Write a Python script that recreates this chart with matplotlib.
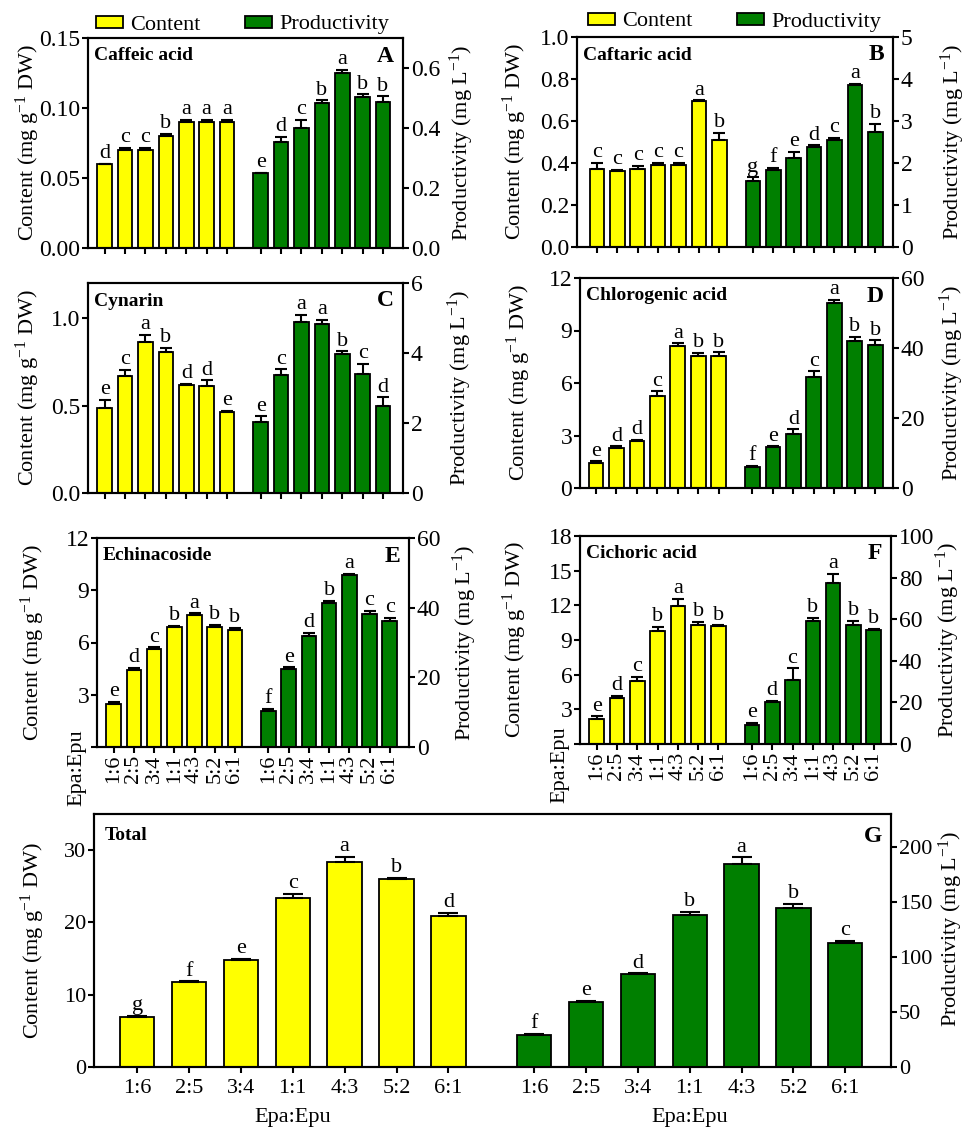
import matplotlib
matplotlib.use("Agg")
import matplotlib.pyplot as plt
from matplotlib.patches import Patch
import numpy as np

plt.rcParams["font.family"] = ["Liberation Serif", "DejaVu Serif"]
plt.rcParams["mathtext.fontset"] = "custom"
plt.rcParams["mathtext.rm"] = "Liberation Serif"
plt.rcParams["mathtext.it"] = "Liberation Serif:italic"
plt.rcParams["mathtext.bf"] = "Liberation Serif:bold"

# Epa:Epu ratios
ratios = ["1:6", "2:5", "3:4", "1:1", "4:3", "5:2", "6:1"]

# Caffeic acid
caffeic_content = [0.060, 0.070, 0.070, 0.080, 0.090, 0.090, 0.090]
caffeic_content_err = [0.0, 0.0017, 0.0017, 0.0017, 0.0017, 0.0017, 0.0017]
caffeic_content_sig = ["d", "c", "c", "b", "a", "a", "a"]
caffeic_prod = [0.250, 0.352, 0.399, 0.482, 0.584, 0.502, 0.486]
caffeic_prod_err = [0.0, 0.019, 0.029, 0.010, 0.010, 0.010, 0.020]
caffeic_prod_sig = ["e", "d", "c", "b", "a", "b", "b"]

# Caftaric acid
caftaric_content = [0.371, 0.363, 0.370, 0.390, 0.390, 0.693, 0.510]
caftaric_content_err = [0.030, 0.006, 0.017, 0.011, 0.011, 0.006, 0.032]
caftaric_content_sig = ["c", "c", "c", "c", "c", "a", "b"]
caftaric_prod = [1.56, 1.83, 2.12, 2.37, 2.55, 3.85, 2.75]
caftaric_prod_err = [0.10, 0.06, 0.15, 0.05, 0.05, 0.04, 0.18]
caftaric_prod_sig = ["g", "f", "e", "d", "c", "a", "b"]

# Cynarin
cynarin_content = [0.484, 0.670, 0.862, 0.808, 0.616, 0.614, 0.463]
cynarin_content_err = [0.050, 0.032, 0.040, 0.020, 0.006, 0.030, 0.008]
cynarin_content_sig = ["e", "c", "a", "b", "d", "d", "e"]
cynarin_prod = [2.02, 3.36, 4.88, 4.83, 3.98, 3.40, 2.50]
cynarin_prod_err = [0.17, 0.17, 0.22, 0.12, 0.07, 0.30, 0.23]
cynarin_prod_sig = ["e", "c", "a", "a", "b", "c", "d"]

# Chlorogenic acid
chlorogenic_content = [1.43, 2.27, 2.70, 5.26, 8.13, 7.54, 7.56]
chlorogenic_content_err = [0.10, 0.11, 0.06, 0.27, 0.13, 0.20, 0.20]
chlorogenic_content_sig = ["e", "d", "d", "c", "a", "b", "b"]
chlorogenic_prod = [6.0, 11.6, 15.4, 31.7, 52.8, 41.9, 40.8]
chlorogenic_prod_err = [0.3, 0.3, 1.4, 1.6, 1.0, 1.2, 1.4]
chlorogenic_prod_sig = ["f", "e", "d", "c", "a", "b", "b"]

# Echinacoside
echinacoside_content = [2.48, 4.42, 5.65, 6.88, 7.60, 6.88, 6.73]
echinacoside_content_err = [0.10, 0.12, 0.08, 0.08, 0.08, 0.13, 0.13]
echinacoside_content_sig = ["e", "d", "c", "b", "a", "b", "b"]
echinacoside_prod = [10.3, 22.3, 31.9, 41.25, 49.3, 38.3, 36.1]
echinacoside_prod_err = [0.6, 0.6, 0.8, 0.8, 0.4, 0.8, 1.0]
echinacoside_prod_sig = ["f", "e", "d", "b", "a", "c", "c"]

# Cichoric acid
cichoric_content = [2.19, 4.00, 5.47, 9.82, 11.90, 10.34, 10.23]
cichoric_content_err = [0.20, 0.14, 0.37, 0.30, 0.66, 0.26, 0.05]
cichoric_content_sig = ["e", "d", "c", "b", "a", "b", "b"]
cichoric_prod = [9.3, 20.0, 31.0, 59.0, 77.4, 57.3, 55.0]
cichoric_prod_err = [0.9, 0.8, 5.3, 1.6, 4.3, 1.8, 0.3]
cichoric_prod_sig = ["e", "d", "c", "b", "a", "b", "b"]

# Total
total_content = [6.95, 11.73, 14.77, 23.42, 28.39, 26.00, 20.94]
total_content_err = [0.14, 0.10, 0.18, 0.55, 0.64, 0.14, 0.41]
total_content_sig = ["g", "f", "e", "c", "a", "b", "d"]
total_prod = [29.0, 58.9, 84.3, 138.4, 184.6, 144.1, 112.4]
total_prod_err = [0.9, 1.5, 0.9, 2.7, 6.0, 4.2, 2.4]
total_prod_sig = ["f", "e", "d", "b", "a", "b", "c"]

YELLOW = "#ffff00"
GREEN = "#007f00"
W, H = 966, 1128
FS = 16

def rect(l, r, t, b):
    return [l / W, 1 - b / H, (r - l) / W, (b - t) / H]

# layout per panel: box in pixels (left, right, top, bottom), x limits, axis ranges
panels = [
    dict(title="Caffeic acid", letter="A",
         c=caffeic_content, ce=caffeic_content_err, cs=caffeic_content_sig,
         p=caffeic_prod, pe=caffeic_prod_err, ps=caffeic_prod_sig,
         box=(88, 403, 38, 248), xlim=(-0.82, 14.63),
         lylim=0.15, lticks=[0, 0.05, 0.10, 0.15], lfmt="%.2f",
         rylim=0.7, rticks=[0, 0.2, 0.4, 0.6], rfmt="%.1f",
         xt="none", w=0.72, ylab=(28, 462)),
    dict(title="Caftaric acid", letter="B",
         c=caftaric_content, ce=caftaric_content_err, cs=caftaric_content_sig,
         p=caftaric_prod, pe=caftaric_prod_err, ps=caftaric_prod_sig,
         box=(577, 893, 37, 247), xlim=(-0.98, 14.52),
         lylim=1.0, lticks=[0, 0.2, 0.4, 0.6, 0.8, 1.0], lfmt="%.1f",
         rylim=5, rticks=[0, 1, 2, 3, 4, 5], rfmt="%d",
         xt="none", w=0.72, ylab=(515, 953)),
    dict(title="Cynarin", letter="C",
         c=cynarin_content, ce=cynarin_content_err, cs=cynarin_content_sig,
         p=cynarin_prod, pe=cynarin_prod_err, ps=cynarin_prod_sig,
         box=(88, 403, 283, 493), xlim=(-0.82, 14.63),
         lylim=1.2, lticks=[0, 0.5, 1.0], lfmt="%.1f",
         rylim=6, rticks=[0, 2, 4, 6], rfmt="%d",
         xt="none", w=0.72, ylab=(28, 460)),
    dict(title="Chlorogenic acid", letter="D",
         c=chlorogenic_content, ce=chlorogenic_content_err, cs=chlorogenic_content_sig,
         p=chlorogenic_prod, pe=chlorogenic_prod_err, ps=chlorogenic_prod_sig,
         box=(580, 893, 278, 488), xlim=(-0.78, 14.52),
         lylim=12, lticks=[0, 3, 6, 9, 12], lfmt="%d",
         rylim=60, rticks=[0, 20, 40, 60], rfmt="%d",
         xt="none", w=0.72, ylab=(519, 952)),
    dict(title="Echinacoside", letter="E",
         c=echinacoside_content, ce=echinacoside_content_err, cs=echinacoside_content_sig,
         p=echinacoside_prod, pe=echinacoside_prod_err, ps=echinacoside_prod_sig,
         box=(97, 409, 538, 747), xlim=(-0.82, 14.60),
         lylim=12, lticks=[0, 3, 6, 9, 12], lfmt="%d",
         rylim=60, rticks=[0, 20, 40, 60], rfmt="%d",
         xt="rot", w=0.72, ylab=(33, 465)),
    dict(title="Cichoric acid", letter="F",
         c=cichoric_content, ce=cichoric_content_err, cs=cichoric_content_sig,
         p=cichoric_prod, pe=cichoric_prod_err, ps=cichoric_prod_sig,
         box=(580, 891, 536, 744), xlim=(-0.82, 14.50),
         lylim=18, lticks=[0, 3, 6, 9, 12, 15, 18], lfmt="%d",
         rylim=100, rticks=[0, 20, 40, 60, 80, 100], rfmt="%d",
         xt="rot", w=0.72, ylab=(515, 948)),
    dict(title="Total", letter="G",
         c=total_content, ce=total_content_err, cs=total_content_sig,
         p=total_prod, pe=total_prod_err, ps=total_prod_sig,
         box=(94, 891, 814, 1067), xlim=(-0.83, 14.53),
         lylim=35, lticks=[0, 10, 20, 30], lfmt="%d",
         rylim=230, rticks=[0, 50, 100, 150, 200], rfmt="%d",
         xt="flat", w=0.66, ylab=(33, 951)),
]

fig = plt.figure(figsize=(W / 100, H / 100), dpi=100)

x_c = np.arange(7)
x_p = np.arange(7) + 7.65

for pn in panels:
    l, r, t, b = pn["box"]
    big = pn["letter"] == "G"
    ax = fig.add_axes(rect(l, r, t, b))
    ax2 = ax.twinx()
    ekw = dict(ecolor="black", elinewidth=1.5, capsize=7 if big else 4, capthick=1.5)
    ax.bar(x_c, pn["c"], pn["w"], color=YELLOW, edgecolor="black", linewidth=1.3,
           yerr=[np.zeros(7), pn["ce"]], error_kw=ekw, zorder=2)
    ax2.bar(x_p, pn["p"], pn["w"], color=GREEN, edgecolor="black", linewidth=1.3,
            yerr=[np.zeros(7), pn["pe"]], error_kw=ekw, zorder=2)
    for xi, v, e, s in zip(x_c, pn["c"], pn["ce"], pn["cs"]):
        ax.annotate(s, (xi, v + e), xytext=(0, 0.5), textcoords="offset points",
                    ha="center", va="bottom", fontsize=FS)
    for xi, v, e, s in zip(x_p, pn["p"], pn["pe"], pn["ps"]):
        ax2.annotate(s, (xi, v + e), xytext=(0, 0.5), textcoords="offset points",
                     ha="center", va="bottom", fontsize=FS)

    ax.set_xlim(*pn["xlim"])
    ax.set_ylim(0, pn["lylim"])
    ax2.set_ylim(0, pn["rylim"])
    lt = [pn["lfmt"] % v for v in pn["lticks"]]
    if pn["xt"] == "rot":
        lt[0] = ""
    ax.set_yticks(pn["lticks"], lt)
    ax2.set_yticks(pn["rticks"], [pn["rfmt"] % v for v in pn["rticks"]])
    ax.set_xticks(np.concatenate([x_c, x_p]))
    if pn["xt"] == "none":
        ax.set_xticklabels([])
    elif pn["xt"] == "rot":
        ax.set_xticklabels(ratios * 2, rotation=90)
        ax.text(-0.064, -0.10, "Epa:Epu", transform=ax.transAxes, rotation=90,
                ha="center", va="center", fontsize=FS)
    else:
        ax.set_xticklabels(ratios * 2)
        for gx in (3, 3 + 7.65):
            ax.text(gx, -0.198, "Epa:Epu", transform=ax.get_xaxis_transform(),
                    ha="center", va="center", fontsize=FS)

    tfs = 16 if big else 17
    for a in (ax, ax2):
        for sp in a.spines.values():
            sp.set_linewidth(1.5)
        a.tick_params(direction="out", length=4.5, width=1.5, labelsize=tfs, pad=1)
    ax.tick_params(axis="x", labelsize=16, pad=4 if big else 1)

    ax.annotate(pn["title"], (0, 1), xycoords="axes fraction",
                xytext=(11 * 0.72 if big else 6 * 0.72, -21 * 0.72 if big else -18 * 0.72),
                textcoords="offset points", ha="left", va="center",
                fontsize=14, fontweight="bold")
    ax.annotate(pn["letter"], (1, 1), xycoords="axes fraction",
                xytext=(-9 * 0.72, -23 * 0.72 if big else -18 * 0.72),
                textcoords="offset points", ha="right", va="center",
                fontsize=17, fontweight="bold")

    yc = (t + b) / 2
    fig.text(pn["ylab"][0] / W, 1 - yc / H, "Content (mg g$^{-1}$ DW)",
             rotation=90, ha="center", va="center", fontsize=FS)
    yr = yc - 12 if big else yc
    fig.text(pn["ylab"][1] / W, 1 - yr / H, "Productivity (mg L$^{-1}$)",
             rotation=90, ha="center", va="center", fontsize=FS)

# legends above panels A and B
handles = [Patch(facecolor=YELLOW, edgecolor="black", linewidth=1.3, label="Content"),
           Patch(facecolor=GREEN, edgecolor="black", linewidth=1.3, label="Productivity")]
for lx, ly in ((96, 25), (588, 22)):
    fig.legend(handles=handles, loc="center left", bbox_to_anchor=(lx / W, 1 - ly / H),
               ncol=2, frameon=False, fontsize=FS, borderpad=0, borderaxespad=0,
               handlelength=1.2, handleheight=0.45, handletextpad=0.35,
               columnspacing=2.0)

fig.savefig("out.png", dpi=100)
